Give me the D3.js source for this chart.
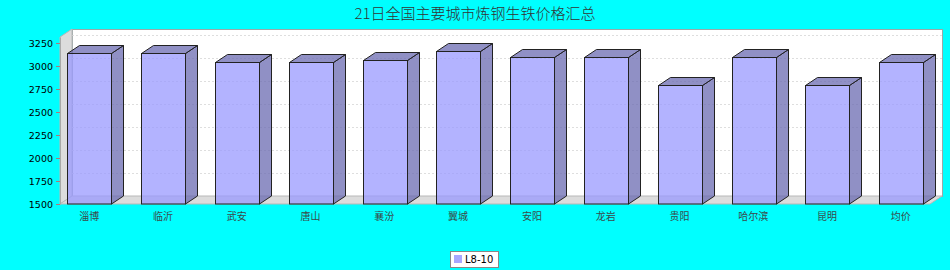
<!DOCTYPE html>
<html>
<head>
<meta charset="utf-8">
<script src="https://cdn.jsdelivr.net/npm/d3@7"></script>
<style>
  body { margin: 0; background: #00ffff; }
  svg { display: block; }
  .y.axis text { font-family: "DejaVu Sans", sans-serif; font-size: 9.5px; fill: #000; }
  .x.axis text { font-family: "Noto Sans CJK SC", sans-serif; font-size: 10px; fill: #3a4a4a; }
</style>
</head>
<body>
<div id="container"></div>
<script>
var categories = ["淄博", "临沂", "武安", "唐山", "襄汾", "翼城", "安阳", "龙岩", "贵阳", "哈尔滨", "昆明", "均价"];
var values = [3140, 3140, 3040, 3040, 3060, 3160, 3100, 3100, 2790, 3100, 2790, 3040];
var yTicks = [1500, 1750, 2000, 2250, 2500, 2750, 3000, 3250];
var seriesName = "L8-10";
var title = "21日全国主要城市炼钢生铁价格汇总";

var W = 950, H = 270;
// front plane of the plot, and the 3d offset to the back wall
var pLeft = 60, pRight = 930, pTop = 37, pBottom = 204;
var dx = 12, dy = 8;

var svg = d3.select("#container").append("svg")
  .attr("width", W)
  .attr("height", H);

svg.append("rect")
  .attr("width", W).attr("height", H)
  .attr("fill", "#00ffff");

var x = d3.scaleBand()
  .domain(categories)
  .range([pLeft, pRight])
  .paddingInner(0.41)
  .paddingOuter(0.1);

var y = d3.scaleLinear()
  .domain([1500, 3315])
  .range([pBottom, pTop]);

// back wall
svg.append("rect")
  .attr("x", pLeft + dx + 0.5).attr("y", pTop - dy + 0.5)
  .attr("width", pRight - pLeft).attr("height", pBottom - pTop)
  .attr("fill", "#fff")
  .attr("stroke", "#9aa8a8")
  .attr("stroke-width", 1);

// grid lines on the back wall
svg.selectAll(".grid")
    .data(yTicks.slice(1))
  .enter().append("line")
    .attr("class", "grid")
    .attr("x1", pLeft + dx).attr("x2", pRight + dx)
    .attr("y1", function(d) { return Math.round(y(d) - dy) + 0.5; })
    .attr("y2", function(d) { return Math.round(y(d) - dy) + 0.5; })
    .attr("stroke", "#dedede")
    .attr("stroke-dasharray", "2,2");

// left wall and floor
svg.append("polygon")
  .attr("points", [[pLeft, pTop], [pLeft + dx, pTop - dy], [pLeft + dx, pBottom - dy], [pLeft, pBottom]].join(" "))
  .attr("fill", "#dcdcdc")
  .attr("stroke", "#b8b8b8");

svg.append("polygon")
  .attr("points", [[pLeft, pBottom], [pLeft + dx, pBottom - dy], [pRight + dx, pBottom - dy], [pRight, pBottom]].join(" "))
  .attr("fill", "#dcdcdc")
  .attr("stroke", "#b8b8b8");

// bars
var bw = x.bandwidth();
var bars = svg.selectAll(".bar")
    .data(values)
  .enter().append("g")
    .attr("class", "bar");

function x0(i) { return Math.round(x(categories[i])) + 0.5; }
function yTop(d) { return Math.round(y(d)) + 0.5; }

bars.append("polygon")
  .attr("points", function(d, i) {
    var a = x0(i) + Math.round(bw), t = yTop(d);
    return [[a, t], [a + dx, t - dy], [a + dx, pBottom - dy], [a, pBottom]].join(" ");
  })
  .attr("fill", "rgba(107,107,178,0.75)")
  .attr("stroke", "#222");

bars.append("polygon")
  .attr("points", function(d, i) {
    var a = x0(i), t = yTop(d);
    return [[a, t], [a + dx, t - dy], [a + Math.round(bw) + dx, t - dy], [a + Math.round(bw), t]].join(" ");
  })
  .attr("fill", "rgba(107,107,178,0.75)")
  .attr("stroke", "#222");

bars.append("rect")
  .attr("x", function(d, i) { return x0(i); })
  .attr("y", function(d) { return yTop(d); })
  .attr("width", Math.round(bw))
  .attr("height", function(d) { return pBottom - yTop(d); })
  .attr("fill", "rgba(153,153,255,0.75)")
  .attr("stroke", "#222");

// axes
var yAxis = d3.axisLeft(y)
  .tickValues(yTicks)
  .tickFormat(d3.format("d"))
  .tickSize(4).tickSizeOuter(0).tickPadding(3);
var gy = svg.append("g")
  .attr("class", "y axis")
  .attr("transform", "translate(" + pLeft + ",0)")
  .call(yAxis);
gy.select(".domain").attr("stroke", "#a8a8a8");
gy.selectAll(".tick line").attr("stroke", "#b07878");

var xAxis = d3.axisBottom(x).tickSize(0).tickPadding(9);
var gx = svg.append("g")
  .attr("class", "x axis")
  .attr("transform", "translate(0," + pBottom + ")")
  .call(xAxis);
gx.select(".domain").remove();

// title
svg.append("text")
  .attr("x", W / 2).attr("y", 19)
  .attr("text-anchor", "middle")
  .attr("font-family", "'Noto Sans CJK SC', sans-serif")
  .attr("font-size", 15)
  .attr("font-weight", 300)
  .attr("fill", "#333")
  .text(title);

// legend
var lg = svg.append("g").attr("class", "legend");
lg.append("rect")
  .attr("x", 450.5).attr("y", 251.5)
  .attr("width", 48).attr("height", 16)
  .attr("fill", "#fff")
  .attr("stroke", "#888");
lg.append("rect")
  .attr("x", 454).attr("y", 255)
  .attr("width", 8).attr("height", 8)
  .attr("fill", "rgba(153,153,255,0.85)");
lg.append("text")
  .attr("x", 465).attr("y", 263)
  .attr("font-family", "'DejaVu Sans', sans-serif")
  .attr("font-size", 10)
  .attr("fill", "#000")
  .text(seriesName);
</script>
</body>
</html>
